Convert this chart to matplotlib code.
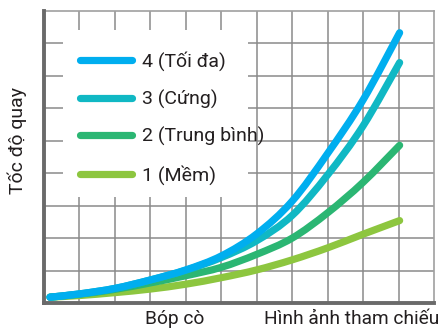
import matplotlib
matplotlib.use("Agg")
import matplotlib.pyplot as plt
from matplotlib.patches import Rectangle, PathPatch
from matplotlib.path import Path
from matplotlib.lines import Line2D

# ---- data (grid units) ----
x_vals = [0.17, 1, 2, 3, 4, 5, 6, 7, 8, 9, 10.03]
y_soft = [0.18, 0.23, 0.32, 0.43, 0.58, 0.78, 1.02, 1.33, 1.70, 2.12, 2.54]
y_medium = [0.18, 0.27, 0.42, 0.62, 0.84, 1.10, 1.50, 2.00, 2.78, 3.72, 4.86]
y_hard = [0.18, 0.28, 0.45, 0.71, 1.01, 1.40, 1.92, 2.70, 3.95, 5.46, 7.41]
y_max = [0.18, 0.28, 0.45, 0.71, 1.02, 1.45, 2.13, 3.14, 4.61, 6.26, 8.33]

series_labels = ["1 (Mềm)", "2 (Trung bình)", "3 (Cứng)", "4 (Tối đa)"]
series_colors = ["#8DC63F", "#2BB673", "#10B8C4", "#00AEEF"]

xtick_pos = [3.69, 8.69]
xtick_labels = ["Bóp cò", "Hình ảnh tham chiếu"]
ylabel = "Tốc độ quay"

plt.rcParams['font.family'] = ['Roboto', 'DejaVu Sans']
text_color = "#231F20"
LW = 5.2


def smooth_path(xs, ys):
    """Smooth curve through the given points (Catmull-Rom as cubic Bezier)."""
    pts = list(zip(xs, ys))
    n = len(pts)
    verts = [pts[0]]
    codes = [Path.MOVETO]
    for i in range(n - 1):
        p0 = pts[i - 1] if i > 0 else pts[i]
        p1 = pts[i]
        p2 = pts[i + 1]
        p3 = pts[i + 2] if i + 2 < n else pts[i + 1]
        c1 = (p1[0] + (p2[0] - p0[0]) / 6, p1[1] + (p2[1] - p0[1]) / 6)
        c2 = (p2[0] - (p3[0] - p1[0]) / 6, p2[1] - (p3[1] - p1[1]) / 6)
        verts += [c1, c2, p2]
        codes += [Path.CURVE4] * 3
    return Path(verts, codes)


fig = plt.figure(figsize=(4.4, 3.32), dpi=100)
ax = fig.add_axes([44 / 440, 1 - 303 / 332, 390 / 440, 292 / 332])
ax.set_xlim(0, 11)
ax.set_ylim(0, 9)

# grid
for gx in range(1, 11):
    ax.axvline(gx, color="#8a8a8a", lw=1.1, zorder=1)
for gy in range(1, 9):
    ax.axhline(gy, color="#8a8a8a", lw=1.1, zorder=1)

# white legend background
ax.add_patch(Rectangle((19 / 390, 106 / 292), (248 - 63) / 390, (197 - 30) / 292,
                       transform=ax.transAxes, facecolor="white", edgecolor="none", zorder=2))

series = [y_soft, y_medium, y_hard, y_max]
handles = []
for i, (ys, lab, col) in enumerate(zip(series, series_labels, series_colors)):
    patch = PathPatch(smooth_path(x_vals, ys), facecolor="none", edgecolor=col,
                      lw=LW, capstyle="round", joinstyle="round", zorder=3 + i)
    ax.add_patch(patch)
    handles.append(Line2D([], [], color=col, lw=LW, solid_capstyle="round"))

leg = ax.legend(handles[::-1], series_labels[::-1], loc="upper left",
                bbox_to_anchor=(80 / 440, 1 - 51 / 332), bbox_transform=fig.transFigure,
                frameon=False, fontsize=14, handlelength=2.65, handletextpad=0.55,
                labelspacing=0.96, borderpad=0, borderaxespad=0)
for t in leg.get_texts():
    t.set_color(text_color)

# spines
for s in ["left", "bottom"]:
    ax.spines[s].set_color("#6a6a6a")
    ax.spines[s].set_linewidth(2.8)
    ax.spines[s].set_zorder(10)
for s in ["top", "right"]:
    ax.spines[s].set_color("#a0a0a0")
    ax.spines[s].set_linewidth(1.2)

ax.set_yticks([])
ax.set_xticks(xtick_pos)
ax.set_xticklabels(xtick_labels, fontsize=13.8, color=text_color)
ax.tick_params(axis="x", length=0, pad=5)

ax.set_ylabel(ylabel, fontsize=14, color=text_color)
ax.yaxis.set_label_coords((27 - 44) / 390, (303 - 140) / 292)

fig.savefig("out.png", dpi=100)
